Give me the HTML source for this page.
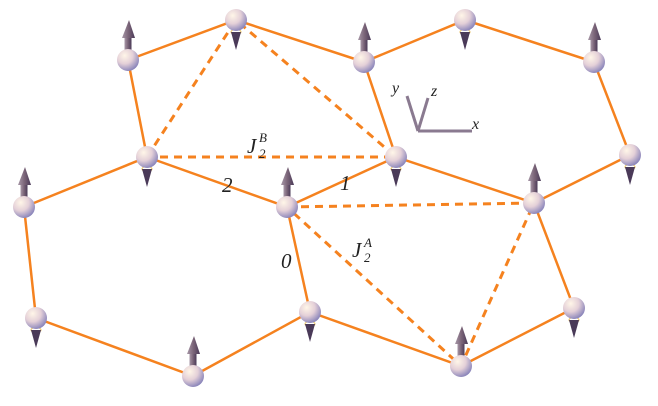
<!DOCTYPE html>
<html><head><style>body{margin:0;background:#fff}svg{display:block}</style></head><body>
<svg width="658" height="406" viewBox="0 0 658 406" xmlns="http://www.w3.org/2000/svg">
<defs>
<radialGradient id="sp" cx="0.35" cy="0.3" r="0.75">
<stop offset="0" stop-color="#fff6e8"/><stop offset="0.5" stop-color="#e4d0d8"/><stop offset="1" stop-color="#8480b8"/>
</radialGradient>
<linearGradient id="ar" x1="0" x2="1"><stop offset="0" stop-color="#a898a8"/><stop offset="0.5" stop-color="#7a6478"/><stop offset="1" stop-color="#4a3a58"/></linearGradient>
<g id="up"><rect x="-3.5" y="-24" width="7" height="16" fill="url(#ar)"/><polygon points="-6,-22 1,-40 7,-22" fill="url(#ar)"/></g>
<g id="dn"><ellipse cx="0" cy="12" rx="5" ry="2.5" fill="none" stroke="#e8c060" stroke-width="1"/><polygon points="-5,12 0,30 5,12" fill="#4a3a58"/></g>
</defs>
<g stroke="#f5821f" stroke-width="2.5" fill="none">
<polyline points="128,60 236,20 364,62 465,20 594,62 630,155 534,203 396,157 364,62"/>
<polyline points="128,60 147,157 24,207 36,318 193,376 310,312 287,207 147,157"/>
<polyline points="287,207 396,157"/>
<polyline points="310,312 461,366 574,308 534,203"/>
</g>
<g stroke="#f5821f" stroke-width="3" fill="none" stroke-dasharray="8,6">
<polyline points="147,157 236,20 396,157 147,157"/>
<polyline points="287,207 534,203 461,366 287,207"/>
</g>
<g>
<use href="#dn" x="236" y="20"/><use href="#up" x="128" y="60"/><use href="#dn" x="147" y="157"/>
<use href="#up" x="24" y="207"/><use href="#up" x="287" y="207"/><use href="#dn" x="396" y="157"/>
<use href="#up" x="364" y="62"/><use href="#dn" x="465" y="20"/><use href="#up" x="594" y="62"/>
<use href="#dn" x="630" y="155"/><use href="#up" x="534" y="203"/><use href="#dn" x="574" y="308"/>
<use href="#up" x="461" y="366"/><use href="#dn" x="310" y="312"/><use href="#up" x="193" y="376"/>
<use href="#dn" x="36" y="318"/>
</g>
<g fill="url(#sp)">
<circle cx="236" cy="20" r="11"/><circle cx="128" cy="60" r="11"/><circle cx="147" cy="157" r="11"/>
<circle cx="24" cy="207" r="11"/><circle cx="287" cy="207" r="11"/><circle cx="396" cy="157" r="11"/>
<circle cx="364" cy="62" r="11"/><circle cx="465" cy="20" r="11"/><circle cx="594" cy="62" r="11"/>
<circle cx="630" cy="155" r="11"/><circle cx="534" cy="203" r="11"/><circle cx="574" cy="308" r="11"/>
<circle cx="461" cy="366" r="11"/><circle cx="310" cy="312" r="11"/><circle cx="193" cy="376" r="11"/>
<circle cx="36" cy="318" r="11"/>
</g>
<g stroke="#8a7a90" stroke-width="3" fill="none">
<line x1="418" y1="131" x2="407" y2="96"/><line x1="418" y1="131" x2="428" y2="98"/><line x1="418" y1="131" x2="472" y2="131"/>
</g>
<g font-family="Liberation Serif, serif" font-style="italic" fill="#222">
<text x="392" y="93" font-size="16">y</text><text x="431" y="96" font-size="16">z</text><text x="472" y="129" font-size="16">x</text>
<text x="247" y="153" font-size="21">J</text><text x="259" y="158" font-size="13">2</text><text x="259" y="142" font-size="13">B</text>
<text x="352" y="257" font-size="21">J</text><text x="364" y="262" font-size="13">2</text><text x="364" y="247" font-size="13">A</text>
<text x="222" y="192" font-size="21">2</text><text x="340" y="190" font-size="21">1</text>
<text x="281" y="268" font-size="21">0</text>
</g>
</svg>
</body></html>
